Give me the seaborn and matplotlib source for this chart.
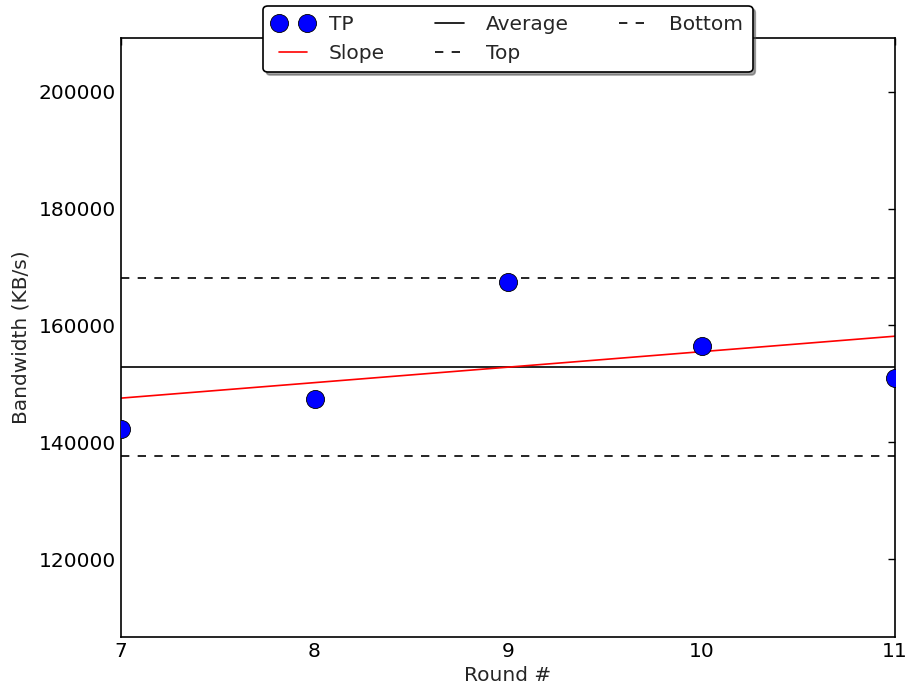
import numpy as np
import pandas as pd
import matplotlib
matplotlib.use("Agg")
import matplotlib.pyplot as plt
import seaborn as sns
from matplotlib.lines import Line2D

# Throughput per round
rounds = [7, 8, 9, 10, 11]
bandwidth = [142220, 147350, 167350, 156410, 150940]

df = pd.DataFrame({"Round": rounds, "Bandwidth": bandwidth})

sns.set_style("white")
plt.rcParams["font.family"] = ["DejaVu Sans"]
plt.rcParams.update({
    "xtick.direction": "in", "ytick.direction": "in",
    "xtick.top": True, "ytick.right": True,
    "xtick.major.size": 5, "ytick.major.size": 5,
    "axes.edgecolor": "black", "axes.linewidth": 1.2,
    "font.size": 14.5,
})

avg = np.mean(bandwidth)
top = avg * 1.1
bottom = avg * 0.9
coef = np.polyfit(rounds, bandwidth, 1)
df["Fit"] = np.polyval(coef, df["Round"])

fig = plt.figure(figsize=(9.07, 6.9), dpi=100)
ax = fig.add_axes([0.1334, 0.0768, 0.8534, 0.8681])

ax.axhline(avg, color="black", lw=1.2)
ax.axhline(top, color="black", lw=1.2, ls=(0, (5, 5)))
ax.axhline(bottom, color="black", lw=1.2, ls=(0, (5, 5)))
sns.lineplot(data=df, x="Round", y="Fit", color="red", lw=1.2, ax=ax)
sns.scatterplot(data=df, x="Round", y="Bandwidth", color="blue", s=170,
                edgecolor="black", linewidth=0.6, ax=ax, zorder=3)

ax.set_xlim(7, 11)
ax.set_ylim(min(bandwidth) * 0.75, max(bandwidth) * 1.25)
ax.set_xticks(rounds)
ax.set_yticks(range(120000, 200001, 20000))
ax.tick_params(labelsize=14.5, width=1, length=5, colors="black")
ax.set_xlabel("Round #", fontsize=14.5, labelpad=4)
ax.set_ylabel("Bandwidth (KB/s)", fontsize=14.5, labelpad=6)

handles = [
    Line2D([], [], ls="none", marker="o", ms=13, mfc="blue", mec="black", mew=0.6),
    Line2D([], [], color="red", lw=1.2),
    Line2D([], [], color="black", lw=1.2),
    Line2D([], [], color="black", lw=1.2, ls=(0, (5, 5))),
    Line2D([], [], color="black", lw=1.2, ls=(0, (5, 5))),
]
labels = ["TP", "Slope", "Average", "Top", "Bottom"]
leg = ax.legend(handles, labels, loc="upper center", bbox_to_anchor=(0.5, 1.0534),
                ncol=3, numpoints=2, fontsize=14.5, fancybox=True, shadow=True,
                frameon=True, borderpad=0.45, labelspacing=0.5, handlelength=2,
                handletextpad=0.8, columnspacing=2.2, borderaxespad=0)
leg.get_frame().set_edgecolor("black")
leg.get_frame().set_linewidth(1.2)
leg.get_frame().set_alpha(1)

fig.savefig("out.png", dpi=100)
